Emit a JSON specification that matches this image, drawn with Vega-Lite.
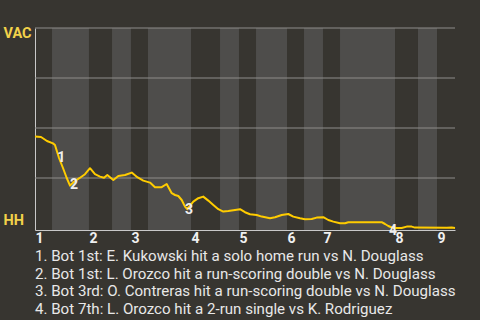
{
  "$schema": "https://vega.github.io/schema/vega-lite/v6.json",
  "width": 420,
  "height": 202,
  "autosize": "none",
  "padding": {"left": 35, "top": 28, "right": 25, "bottom": 90},
  "background": "#373530",
  "config": {
    "view": {"stroke": null},
    "font": "Roboto",
    "axis": {"grid": false}
  },
  "title": {
    "text": [
      "1. Bot 1st: E. Kukowski hit a solo home run vs N. Douglass",
      "2. Bot 1st: L. Orozco hit a run-scoring double vs N. Douglass",
      "3. Bot 3rd: O. Contreras hit a run-scoring double vs N. Douglass",
      "4. Bot 7th: L. Orozco hit a 2-run single vs K. Rodriguez"
    ],
    "orient": "bottom",
    "anchor": "start",
    "frame": "group",
    "font": "Roboto",
    "fontSize": 15.1,
    "fontWeight": "normal",
    "color": "#e8e8e8",
    "lineHeight": 17.7,
    "offset": 4
  },
  "datasets": {
    "halves": [
      {"inning": 1, "half": "bot", "start": 3.0, "end": 9.51},
      {"inning": 2, "half": "bot", "start": 13.57, "end": 16.91},
      {"inning": 3, "half": "bot", "start": 19.91, "end": 27.49},
      {"inning": 4, "half": "bot", "start": 32.6, "end": 35.94},
      {"inning": 5, "half": "bot", "start": 38.94, "end": 44.4},
      {"inning": 6, "half": "bot", "start": 47.4, "end": 50.74},
      {"inning": 7, "half": "bot", "start": 53.74, "end": 63.43},
      {"inning": 8, "half": "bot", "start": 67.48, "end": 70.83}
    ],
    "grid": [{"wp": 0.25}, {"wp": 0.5}, {"wp": 0.75}, {"wp": 1}],
    "plays": [
      {"pa": 0, "wp": 0.457},
      {"pa": 1.06, "wp": 0.455},
      {"pa": 2.11, "wp": 0.435},
      {"pa": 3.17, "wp": 0.423},
      {"pa": 3.52, "wp": 0.415},
      {"pa": 4.23, "wp": 0.35},
      {"pa": 4.93, "wp": 0.3},
      {"pa": 5.59, "wp": 0.25},
      {"pa": 6.17, "wp": 0.212},
      {"pa": 7.05, "wp": 0.235},
      {"pa": 7.81, "wp": 0.249},
      {"pa": 8.81, "wp": 0.269},
      {"pa": 9.69, "wp": 0.299},
      {"pa": 10.57, "wp": 0.269},
      {"pa": 11.45, "wp": 0.257},
      {"pa": 12.16, "wp": 0.251},
      {"pa": 12.74, "wp": 0.265},
      {"pa": 13.8, "wp": 0.24},
      {"pa": 14.68, "wp": 0.26},
      {"pa": 15.86, "wp": 0.265},
      {"pa": 17.04, "wp": 0.277},
      {"pa": 18.02, "wp": 0.254},
      {"pa": 19.08, "wp": 0.237},
      {"pa": 20.26, "wp": 0.227},
      {"pa": 21.14, "wp": 0.204},
      {"pa": 22.32, "wp": 0.204},
      {"pa": 23.2, "wp": 0.22},
      {"pa": 24.09, "wp": 0.174},
      {"pa": 24.67, "wp": 0.165},
      {"pa": 25.25, "wp": 0.16},
      {"pa": 25.85, "wp": 0.14},
      {"pa": 26.43, "wp": 0.107},
      {"pa": 26.83, "wp": 0.094},
      {"pa": 27.89, "wp": 0.132},
      {"pa": 28.77, "wp": 0.149},
      {"pa": 29.65, "wp": 0.157},
      {"pa": 30.53, "wp": 0.137},
      {"pa": 31.42, "wp": 0.115},
      {"pa": 32.3, "wp": 0.094},
      {"pa": 33.18, "wp": 0.082},
      {"pa": 34.06, "wp": 0.085},
      {"pa": 35.24, "wp": 0.09},
      {"pa": 36.12, "wp": 0.094},
      {"pa": 37.0, "wp": 0.079},
      {"pa": 37.88, "wp": 0.069},
      {"pa": 39.06, "wp": 0.065},
      {"pa": 39.94, "wp": 0.057},
      {"pa": 41.41, "wp": 0.049},
      {"pa": 42.29, "wp": 0.054},
      {"pa": 43.47, "wp": 0.065},
      {"pa": 44.63, "wp": 0.07},
      {"pa": 45.51, "wp": 0.057},
      {"pa": 46.69, "wp": 0.049},
      {"pa": 47.57, "wp": 0.044},
      {"pa": 48.75, "wp": 0.045},
      {"pa": 49.63, "wp": 0.052},
      {"pa": 50.8, "wp": 0.054},
      {"pa": 51.68, "wp": 0.04},
      {"pa": 52.56, "wp": 0.032},
      {"pa": 53.74, "wp": 0.024},
      {"pa": 54.62, "wp": 0.024},
      {"pa": 55.2, "wp": 0.029},
      {"pa": 61.08, "wp": 0.029},
      {"pa": 61.67, "wp": 0.02},
      {"pa": 62.25, "wp": 0.01},
      {"pa": 63.08, "wp": 0.0},
      {"pa": 64.61, "wp": 0.0},
      {"pa": 65.49, "wp": 0.007},
      {"pa": 66.37, "wp": 0.007},
      {"pa": 66.95, "wp": 0.002},
      {"pa": 72.54, "wp": 0.001},
      {"pa": 73.42, "wp": 0.002},
      {"pa": 74, "wp": 0.0}
    ],
    "events": [
      {"n": "1", "pa": 4.63, "wp": 0.349},
      {"n": "2", "pa": 6.87, "wp": 0.215},
      {"n": "3", "pa": 27.13, "wp": 0.092},
      {"n": "4", "pa": 63.08, "wp": -0.017}
    ]
  },
  "layer": [
    {
      "data": {"name": "halves"},
      "mark": {"type": "rect", "color": "#4e4d4b"},
      "encoding": {
        "x": {"field": "start", "type": "quantitative", "title": null},
        "x2": {"field": "end"},
        "y": {"datum": 1, "type": "quantitative"},
        "y2": {"datum": -0.01}
      }
    },
    {
      "data": {"name": "grid"},
      "mark": {"type": "rule", "color": "#8e8d8a", "strokeWidth": 1},
      "encoding": {
        "y": {"field": "wp", "type": "quantitative", "title": null}
      }
    },
    {
      "data": {"name": "plays"},
      "mark": {"type": "line", "color": "#ffcc00", "strokeWidth": 2, "strokeJoin": "round"},
      "encoding": {
        "x": {
          "field": "pa",
          "type": "quantitative",
          "title": null,
          "scale": {"domain": [0, 74], "nice": false, "zero": false},
          "axis": {
            "values": [0, 9.51, 16.91, 27.49, 35.94, 44.4, 50.74, 63.43, 70.83],
            "labelExpr": "datum.value < 5 ? '1' : datum.value < 13 ? '2' : datum.value < 20 ? '3' : datum.value < 30 ? '4' : datum.value < 40 ? '5' : datum.value < 47 ? '6' : datum.value < 55 ? '7' : datum.value < 67 ? '8' : '9'",
            "labelAlign": "left",
            "labelBaseline": "top",
            "labelPadding": 1,
            "labelFontSize": 14,
            "labelFontWeight": "bold",
            "labelColor": "#f0f0f0",
            "labelFont": "Roboto",
            "labelOverlap": false,
            "labelFlush": false,
            "ticks": false,
            "domainColor": "#c8c8c8",
            "domainWidth": 1,
            "grid": false
          }
        },
        "y": {
          "field": "wp",
          "type": "quantitative",
          "title": null,
          "scale": {"domain": [-0.01, 1], "nice": false, "zero": false},
          "axis": {
            "values": [0.975, 0.04],
            "labelExpr": "datum.value > 0.5 ? 'VAC' : 'HH'",
            "labelAlign": "left",
            "labelBaseline": "middle",
            "labelPadding": 32,
            "labelFontSize": 14.5,
            "labelFontWeight": "bold",
            "labelColor": "#f2d24a",
            "labelFont": "Roboto",
            "labelOverlap": false,
            "labelFlush": false,
            "ticks": false,
            "domainColor": "#c8c8c8",
            "domainWidth": 1,
            "grid": false
          }
        }
      }
    },
    {
      "data": {"name": "events"},
      "mark": {"type": "text", "font": "Roboto", "fontSize": 14, "fontWeight": "bold", "color": "#eeeeee", "align": "center", "baseline": "middle"},
      "encoding": {
        "x": {"field": "pa", "type": "quantitative"},
        "y": {"field": "wp", "type": "quantitative"},
        "text": {"field": "n"}
      }
    }
  ]
}
